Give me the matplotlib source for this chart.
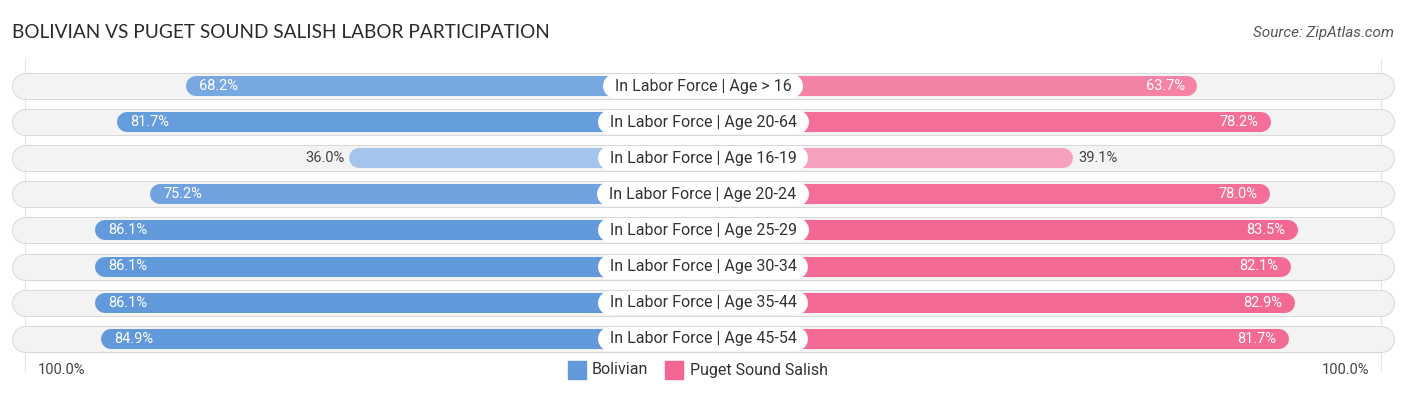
import matplotlib.pyplot as plt
import numpy as np

plt.rcParams['font.family'] = ['Roboto', 'DejaVu Sans']

categories = ['In Labor Force | Age > 16', 'In Labor Force | Age 20-64',
              'In Labor Force | Age 16-19', 'In Labor Force | Age 20-24',
              'In Labor Force | Age 25-29', 'In Labor Force | Age 30-34',
              'In Labor Force | Age 35-44', 'In Labor Force | Age 45-54']
bolivian = [68.2, 81.7, 36.0, 75.2, 86.1, 86.1, 86.1, 84.9]
salish = [63.7, 78.2, 39.1, 78.0, 83.5, 82.1, 82.9, 81.7]

# geometry (data units = percent, 1 unit ~ 5.07 px)
PX = 5.07
OFF = 33.8          # bar offset hidden behind the label
HALF = 703 / PX
ROW = 36.1

fig = plt.figure(figsize=(14.06, 3.95), dpi=100)
ax = fig.add_axes([0, 0, 1, 1])
ax.set_xlim(-HALF, HALF)
ax.set_ylim((395 - 86) / ROW, -86 / ROW)
ax.axis('off')

def px(n):
    return n / PX

def shade(base, light, v):
    t = np.clip((v - 30) / 55, 0, 1)
    return tuple(np.array(light) * (1 - t) + np.array(base) * t)

blue_dark, blue_light = (0.38, 0.60, 0.86), (0.68, 0.79, 0.93)
pink_dark, pink_light = (0.95, 0.40, 0.57), (0.97, 0.68, 0.77)

# faint 100% guides
for xv in (-(OFF + 100), OFF + 100):
    ax.plot([xv, xv], [-0.75, 7.9], color='#e4e4e4', lw=0.8, zorder=0)

renderer = fig.canvas.get_renderer()
cap_track = px(13)
cap_bar = px(10)
for i, cat in enumerate(categories):
    # track
    ax.plot([-HALF + px(12) + cap_track, HALF - px(12) - cap_track], [i, i],
            color='#d9d9d9', lw=19.5, solid_capstyle='round', zorder=1)
    ax.plot([-HALF + px(12) + cap_track, HALF - px(12) - cap_track], [i, i],
            color='#f3f3f3', lw=18.0, solid_capstyle='round', zorder=1)

    b, s = bolivian[i], salish[i]
    lb = -(OFF + b)
    rs = OFF + s
    ax.plot([lb + cap_bar, 0], [i, i], color=shade(blue_dark, blue_light, b),
            lw=14.4, solid_capstyle='round', zorder=2)
    ax.plot([0, rs - cap_bar], [i, i], color=shade(pink_dark, pink_light, s),
            lw=14.4, solid_capstyle='round', zorder=2)

    if b > 50:
        ax.text(lb + px(13), i, f'{b:.1f}%', color='white', fontsize=10.5,
                ha='left', va='center', zorder=4)
    else:
        ax.text(lb - px(4), i, f'{b:.1f}%', color='#444444', fontsize=10.5,
                ha='right', va='center', zorder=4)
    if s > 50:
        ax.text(rs - px(12), i, f'{s:.1f}%', color='white', fontsize=10.5,
                ha='right', va='center', zorder=4)
    else:
        ax.text(rs + px(6), i, f'{s:.1f}%', color='#444444', fontsize=10.5,
                ha='left', va='center', zorder=4)

    t = ax.text(0, i, cat, fontsize=11.5, color='#333333', ha='center',
                va='center', zorder=5)
    bb = t.get_window_extent(renderer).transformed(ax.transData.inverted())
    x0, x1 = min(bb.x0, bb.x1), max(bb.x0, bb.x1)
    ax.plot([x0, x1], [i, i], color='white', lw=17.3,
            solid_capstyle='round', zorder=4)

# bottom axis labels
yb = (370 - 86) / ROW
ax.text(-HALF + px(38), yb, '100.0%', fontsize=10.5, color='#444444',
        ha='left', va='center')
ax.text(HALF - px(37), yb, '100.0%', fontsize=10.5, color='#444444',
        ha='right', va='center')

# legend
ax.scatter([-px(703 - 577)], [yb], marker='s', s=150, color=blue_dark, zorder=3)
ax.text(-px(703 - 592), yb, 'Bolivian', fontsize=11.5, color='#333333',
        ha='left', va='center')
ax.scatter([-px(703 - 674)], [yb], marker='s', s=150, color=pink_dark, zorder=3)
ax.text(-px(703 - 690), yb, 'Puget Sound Salish', fontsize=11.5,
        color='#333333', ha='left', va='center')

fig.text(12 / 1406, 1 - 33 / 395, 'BOLIVIAN VS PUGET SOUND SALISH LABOR PARTICIPATION',
         fontsize=13.7, color='#2b2b2b', ha='left', va='center',
         family=['Lato', 'DejaVu Sans'])
fig.text(1394 / 1406, 1 - 33 / 395, 'Source: ZipAtlas.com', fontsize=11,
         color='#555555', ha='right', va='center', style='italic')

fig.savefig('out.png', dpi=100)
